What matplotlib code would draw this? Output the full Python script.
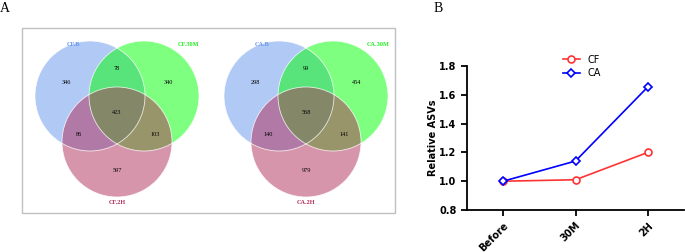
import matplotlib.pyplot as plt
from matplotlib.patches import Circle, Rectangle

# venn data: B, 30M, 2H names and region counts
cf_names = ["CF.B", "CF.30M", "CF.2H"]
cf_counts = {"b": 346, "m": 340, "h": 597, "bm": 78, "bh": 86, "mh": 103, "bmh": 423}
ca_names = ["CA.B", "CA.30M", "CA.2H"]
ca_counts = {"b": 298, "m": 454, "h": 979, "bm": 99, "bh": 140, "mh": 141, "bmh": 568}

# line chart data
timepoints = ["Before", "30M", "2H"]
cf_rel = [1.0, 1.01, 1.20]
ca_rel = [1.0, 1.14, 1.655]

W, H = 685, 252
fig = plt.figure(figsize=(W / 100, H / 100), dpi=100)

# ----------------------------------------------------------------------------------------------------------------------
# panel A drawn in pixel coords
axa = fig.add_axes([0, 0, 1, 1])
axa.set_xlim(0, W)
axa.set_ylim(H, 0)
axa.axis("off")

axa.add_patch(Rectangle((22, 28), 373, 185, fill=False, edgecolor="#c0c0c0", linewidth=1.0))

fills = ["#6495ED", "#00FF00", "#B12D59"]
txt_cols = ["#6495ED", "#22EE22", "#B12D59"]


def draw_venn(ax, cx, names, counts):
    r = 55
    centres = [(cx - 27, 96), (cx + 27, 96), (cx, 142)]
    for (x, y), c in zip(centres, fills):
        ax.add_patch(Circle((x, y), r, facecolor=c, alpha=0.5, edgecolor="none"))
    for (x, y) in centres:
        ax.add_patch(Circle((x, y), r, fill=False, edgecolor="white", linewidth=0.6, alpha=0.8))
    font = dict(family="Liberation Serif", fontsize=4.5, ha="center", va="center")
    ax.text(cx - 44, 45, names[0], color=txt_cols[0], fontweight="bold", **font)
    ax.text(cx + 72, 45, names[1], color=txt_cols[1], fontweight="bold", **font)
    ax.text(cx, 203, names[2], color=txt_cols[2], fontweight="bold", **font)
    pos = {"b": (cx - 51, 82), "m": (cx + 51, 82), "h": (cx, 171), "bm": (cx, 68),
           "bh": (cx - 38, 134), "mh": (cx + 38, 134), "bmh": (cx, 112)}
    for k, v in counts.items():
        ax.text(pos[k][0], pos[k][1], str(v), color="black", **font)


draw_venn(axa, 117, cf_names, cf_counts)
draw_venn(axa, 306, ca_names, ca_counts)

axa.text(5, 9, "A", family="Liberation Serif", fontsize=10, ha="center", va="center")
axa.text(438, 8, "B", family="Liberation Serif", fontsize=10, ha="center", va="center")

# ----------------------------------------------------------------------------------------------------------------------
# panel B
axb = fig.add_axes([467 / W, (H - 210) / H, (684 - 467) / W, (210 - 66) / H])
x = range(len(timepoints))
axb.plot(x, cf_rel, color="#FF3333", marker="o", markersize=5, markerfacecolor="white",
         markeredgewidth=1.2, linewidth=1.2, label="CF")
axb.plot(x, ca_rel, color="#0000FF", marker="D", markersize=4.5, markerfacecolor="white",
         markeredgewidth=1.2, linewidth=1.2, label="CA")
axb.set_xlim(-0.5, 2.5)
axb.set_ylim(0.8, 1.8)
axb.set_yticks([0.8, 1.0, 1.2, 1.4, 1.6, 1.8])
axb.set_yticklabels(["0.8", "1.0", "1.2", "1.4", "1.6", "1.8"], fontweight="bold", fontsize=7)
axb.set_xticks(list(x))
axb.set_xticklabels(timepoints, rotation=45, ha="right", rotation_mode="anchor",
                    fontweight="bold", fontsize=7)
axb.set_ylabel("Relative ASVs", fontweight="bold", fontsize=7, labelpad=1)
for s in ["top", "right"]:
    axb.spines[s].set_visible(False)
for s in ["left", "bottom"]:
    axb.spines[s].set_linewidth(1.3)
axb.tick_params(width=1.3, length=4)
axb.legend(loc="upper left", bbox_to_anchor=(0.4, 1.14), frameon=False, fontsize=7,
           handlelength=1.8, labelspacing=0.4)

fig.savefig("out.png", dpi=100)
